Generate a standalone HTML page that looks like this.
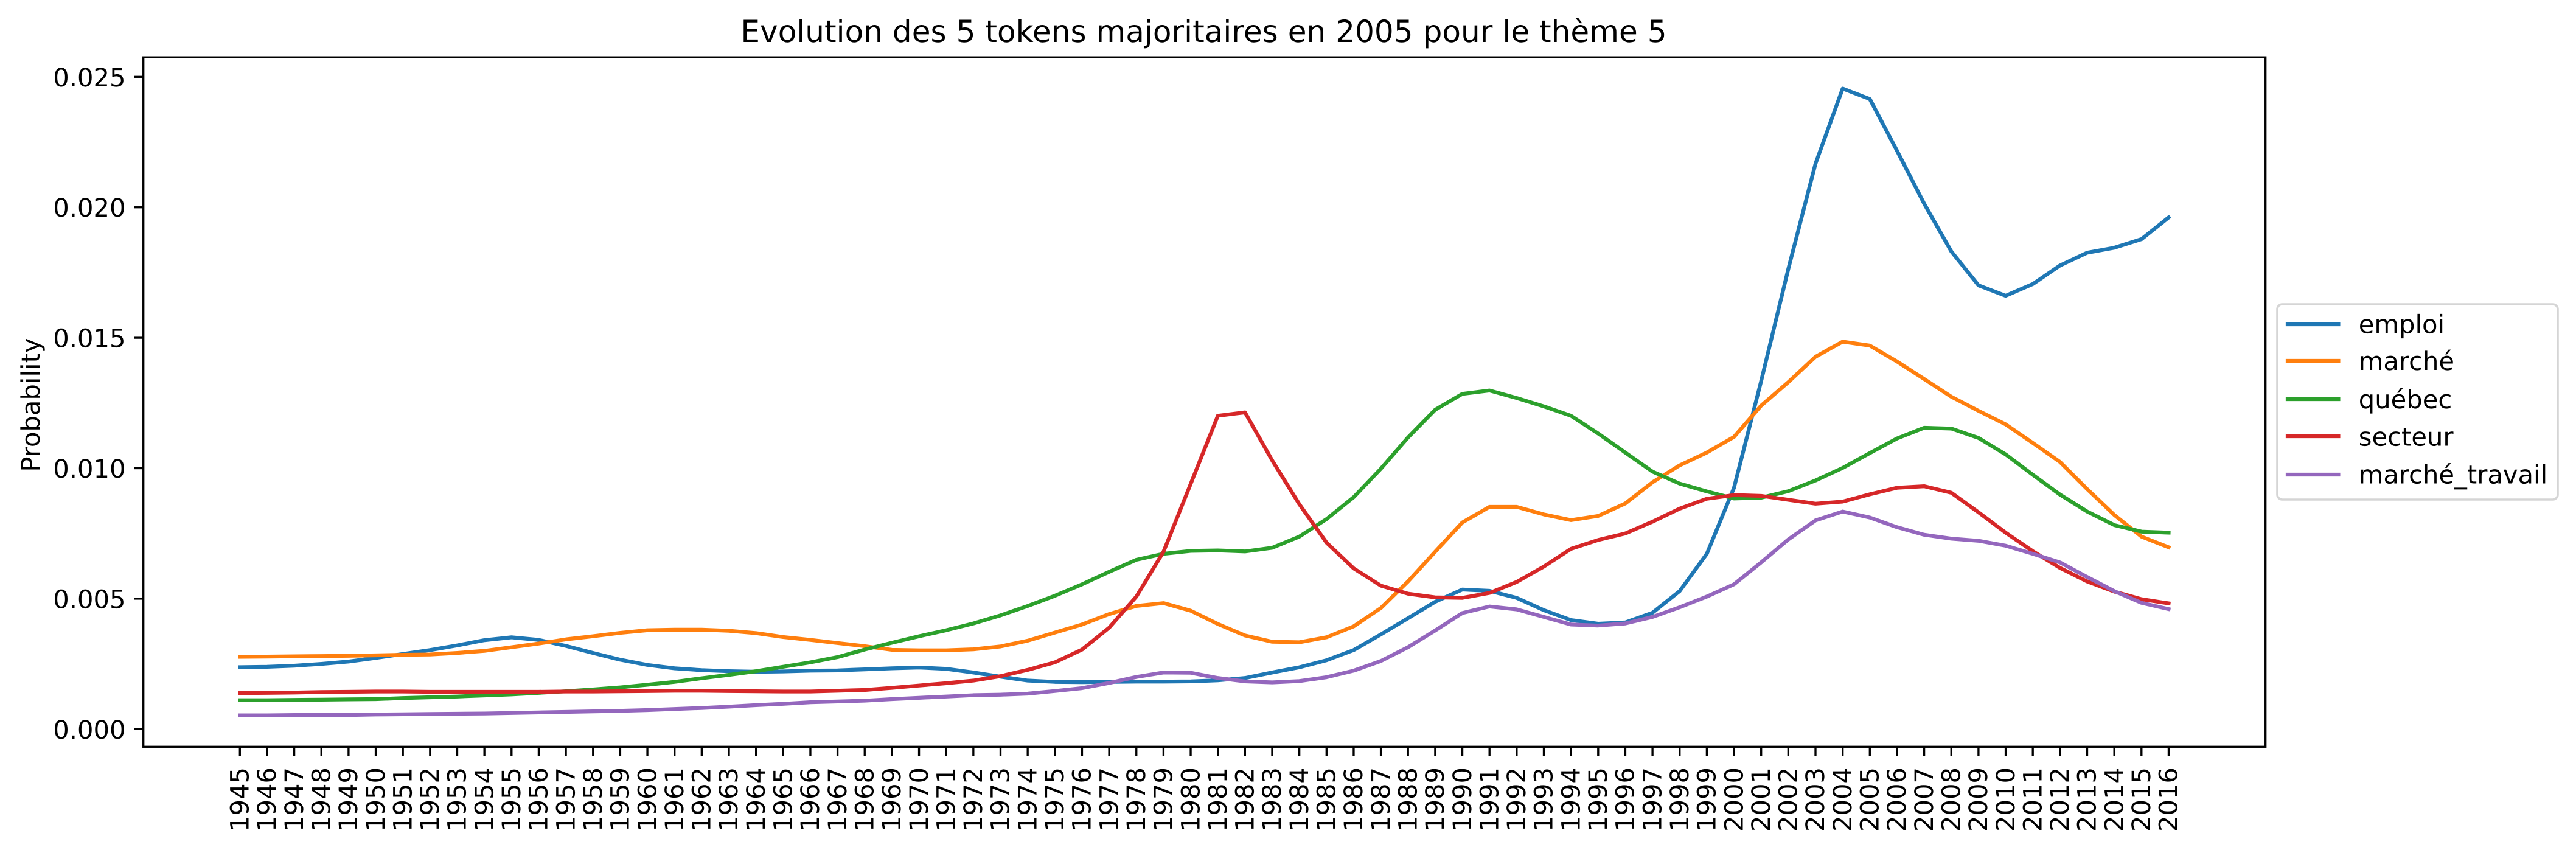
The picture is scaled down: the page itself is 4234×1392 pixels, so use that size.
<!DOCTYPE html>
<html lang="fr">
<head>
<meta charset="utf-8">
<title>Evolution des 5 tokens majoritaires en 2005 pour le thème 5</title>
<style>
html,body{margin:0;padding:0;background:#fff;width:4234px;height:1392px;overflow:hidden}
svg{display:block}
text{font-family:"DejaVu Sans","Liberation Sans",sans-serif;fill:#000;text-rendering:geometricPrecision}
</style>
</head>
<body>
<svg id="chart" xmlns="http://www.w3.org/2000/svg" width="4234" height="1392" viewBox="0 0 4234 1392">
  <rect x="0" y="0" width="4234" height="1392" fill="#fff"/>
  <text x="1978.5" y="69" font-size="50" letter-spacing="0.05" text-anchor="middle">Evolution des 5 tokens majoritaires en 2005 pour le thème 5</text>
  <text transform="translate(65,665.5) rotate(-90)" font-size="41.67" text-anchor="middle">Probability</text>
  <g id="marks"></g>
  <rect x="235.7" y="94.2" width="3488" height="1133.1" fill="none" stroke="#000" stroke-width="3.33"/>
  <g id="xticks"></g>
  <g id="yticks"></g>
  <g id="legend">
    <rect x="3743" y="500" width="461" height="321" rx="8.3" ry="8.3" fill="#fff" fill-opacity="0.8" stroke="#d5d5d5" stroke-width="3.6"/>
  </g>
</svg>
<script>
const categories = [1945,1946,1947,1948,1949,1950,1951,1952,1953,1954,1955,1956,1957,1958,1959,1960,1961,1962,1963,1964,1965,1966,1967,1968,1969,1970,1971,1972,1973,1974,1975,1976,1977,1978,1979,1980,1981,1982,1983,1984,1985,1986,1987,1988,1989,1990,1991,1992,1993,1994,1995,1996,1997,1998,1999,2000,2001,2002,2003,2004,2005,2006,2007,2008,2009,2010,2011,2012,2013,2014,2015,2016];
const yTickValues = [0,0.005,0.01,0.015,0.02,0.025];
const yTickLabels = ["0.000","0.005","0.010","0.015","0.020","0.025"];
const seriesNames = ["emploi","marché","québec","secteur","marché_travail"];
const seriesColors = ["#1f77b4","#ff7f0e","#2ca02c","#d62728","#9467bd"];
const emploi = [.002375,.00239,.00243,.0025,.00259,.00273,.00288,.00303,.00321,.00341,.00352,.00342,.00319,.00292,.00266,.00246,.00233,.00226,.00222,.0022,.00221,.00224,.00225,.00229,.00233,.00236,.00231,.00217,.00201,.00186,.00181,.0018,.00181,.00182,.00182,.00183,.00187,.00196,.00217,.00237,.00264,.00303,.00363,.00425,.00488,.00535,.0053,.00503,.00456,.00418,.00404,.00409,.00446,.00529,.00672,.00925,.01334,.01764,.02167,.02455,.02415,.02217,.02014,.01831,.01701,.01661,.01706,.01777,.01826,.01845,.01878,.01961];
const marche = [.00277,.00278,.00279,.0028,.00281,.00283,.00285,.00286,.00292,.003,.00314,.00328,.00344,.00356,.00369,.00379,.00381,.00381,.00377,.00368,.00353,.00342,.0033,.00318,.00304,.00302,.00302,.00306,.00317,.00339,.0037,.00401,.00441,.00472,.00483,.00454,.00403,.00359,.00335,.00333,.00352,.00394,.00464,.00566,.0068,.00792,.00852,.00852,.00823,.00801,.00817,.00865,.00946,.01011,.0106,.0112,.0124,.0133,.01427,.01485,.0147,.01409,.01342,.01274,.0122,.01168,.01097,.01024,.0092,.00821,.00738,.00697];
const quebec = [.00111,.00111,.00112,.00113,.00114,.00115,.00119,.00122,.00125,.00129,.00133,.00139,.00145,.00152,.0016,.0017,.00181,.00195,.00208,.00222,.00239,.00256,.00276,.00305,.00331,.00356,.00379,.00405,.00436,.00472,.00511,.00555,.00603,.00649,.00672,.00683,.00685,.00681,.00695,.00738,.00805,.00889,.00998,.01118,.01224,.01285,.01298,.01269,.01237,.01201,.01133,.0106,.00987,.00941,.00911,.00884,.00887,.00912,.00953,.01001,.01058,.01114,.01155,.01152,.01116,.01053,.00975,.00899,.00834,.00782,.00757,.00753];
const secteur = [.00138,.00139,.0014,.00142,.00143,.00144,.00144,.00143,.00143,.00143,.00143,.00143,.00144,.00144,.00145,.00146,.00147,.00147,.00146,.00145,.00144,.00144,.00147,.0015,.00158,.00167,.00176,.00186,.00203,.00227,.00256,.00305,.00389,.00508,.0068,.0094,.01201,.01214,.0103,.00862,.00715,.00616,.0055,.00519,.00505,.00503,.00522,.00564,.00623,.00691,.00725,.0075,.00795,.00845,.00883,.00897,.00894,.00879,.00864,.00872,.009,.00925,.00931,.00906,.00831,.00753,.00682,.00618,.00566,.00527,.00498,.00482];
const marcheTravail = [.00053,.00053,.00054,.00054,.00054,.00056,.00057,.00058,.00059,.0006,.00062,.00064,.00066,.00068,.0007,.00073,.00077,.00081,.00086,.00092,.00097,.00103,.00106,.00109,.00115,.0012,.00125,.0013,.00132,.00136,.00146,.00157,.00177,.002,.00217,.00216,.00196,.00183,.00179,.00184,.00199,.00224,.00261,.00314,.00378,.00445,.0047,.00459,.0043,.00401,.00397,.00405,.0043,.00467,.00508,.00555,.00639,.00727,.008,.00834,.00811,.00774,.00745,.0073,.00722,.00703,.00672,.00639,.00583,.00529,.00484,.0046];
const allSeries = [emploi,marche,quebec,secteur,marcheTravail];

const SVG_NS = "http://www.w3.org/2000/svg";
const X0 = 394.3, X_STEP = 44.65, Y0 = 1198.3, Y_K = 42880;
function xScale(year){ return X0 + (year - categories[0]) * X_STEP; }
function yScale(v){ return Y0 - v * Y_K; }
function kebab(s){ return s.replace(/_/g,'-').replace(/é/g,'e'); }

const marks = document.getElementById('marks');
allSeries.forEach(function(values, s){
  const line = document.createElementNS(SVG_NS,'polyline');
  
  
  line.setAttribute('points', values.map(function(v,i){ return xScale(categories[i]).toFixed(2)+','+yScale(v).toFixed(2); }).join(' '));
  line.setAttribute('fill','none');
  line.setAttribute('stroke',seriesColors[s]);
  line.setAttribute('stroke-width','6.25');
  line.setAttribute('stroke-linejoin','round');
  line.setAttribute('stroke-linecap','square');
  marks.appendChild(line);
});

const xg = document.getElementById('xticks');
categories.forEach(function(year){
  const x = xScale(year);
  const tick = document.createElementNS(SVG_NS,'line');
  
  
  tick.setAttribute('x1',x); tick.setAttribute('x2',x);
  tick.setAttribute('y1',1227.3); tick.setAttribute('y2',1242);
  tick.setAttribute('stroke','#000'); tick.setAttribute('stroke-width','3.33');
  xg.appendChild(tick);
  const label = document.createElementNS(SVG_NS,'text');
  
  
  label.setAttribute('transform','translate('+(x+14.2)+',1261) rotate(-90)');
  label.setAttribute('font-size','41.67');
  label.setAttribute('text-anchor','end');
  label.textContent = String(year);
  xg.appendChild(label);
});

const yg = document.getElementById('yticks');
yTickValues.forEach(function(v,i){
  const y = yScale(v);
  const tick = document.createElementNS(SVG_NS,'line');
  
  
  tick.setAttribute('x1',221); tick.setAttribute('x2',235.7);
  tick.setAttribute('y1',y); tick.setAttribute('y2',y);
  tick.setAttribute('stroke','#000'); tick.setAttribute('stroke-width','3.33');
  yg.appendChild(tick);
  const label = document.createElementNS(SVG_NS,'text');
  
  
  label.setAttribute('x',206.5);
  label.setAttribute('y',y+15.5);
  label.setAttribute('font-size','41.67');
  label.setAttribute('text-anchor','end');
  label.textContent = yTickLabels[i];
  yg.appendChild(label);
});

const legend = document.getElementById('legend');
const legendLineY = [533,593,656,717,780];
const legendTextY = [547.5,608,671,732.7,794.5];
seriesNames.forEach(function(name,i){
  const handle = document.createElementNS(SVG_NS,'line');
  
  
  handle.setAttribute('x1',3760); handle.setAttribute('x2',3843.4);
  handle.setAttribute('y1',legendLineY[i]); handle.setAttribute('y2',legendLineY[i]);
  handle.setAttribute('stroke',seriesColors[i]);
  handle.setAttribute('stroke-width','6.25');
  handle.setAttribute('stroke-linecap','square');
  legend.appendChild(handle);
  const label = document.createElementNS(SVG_NS,'text');
  
  
  label.setAttribute('x',3876.8);
  label.setAttribute('y',legendTextY[i]);
  label.setAttribute('font-size','41.67');
  label.textContent = name;
  legend.appendChild(label);
});
</script>
</body>
</html>
